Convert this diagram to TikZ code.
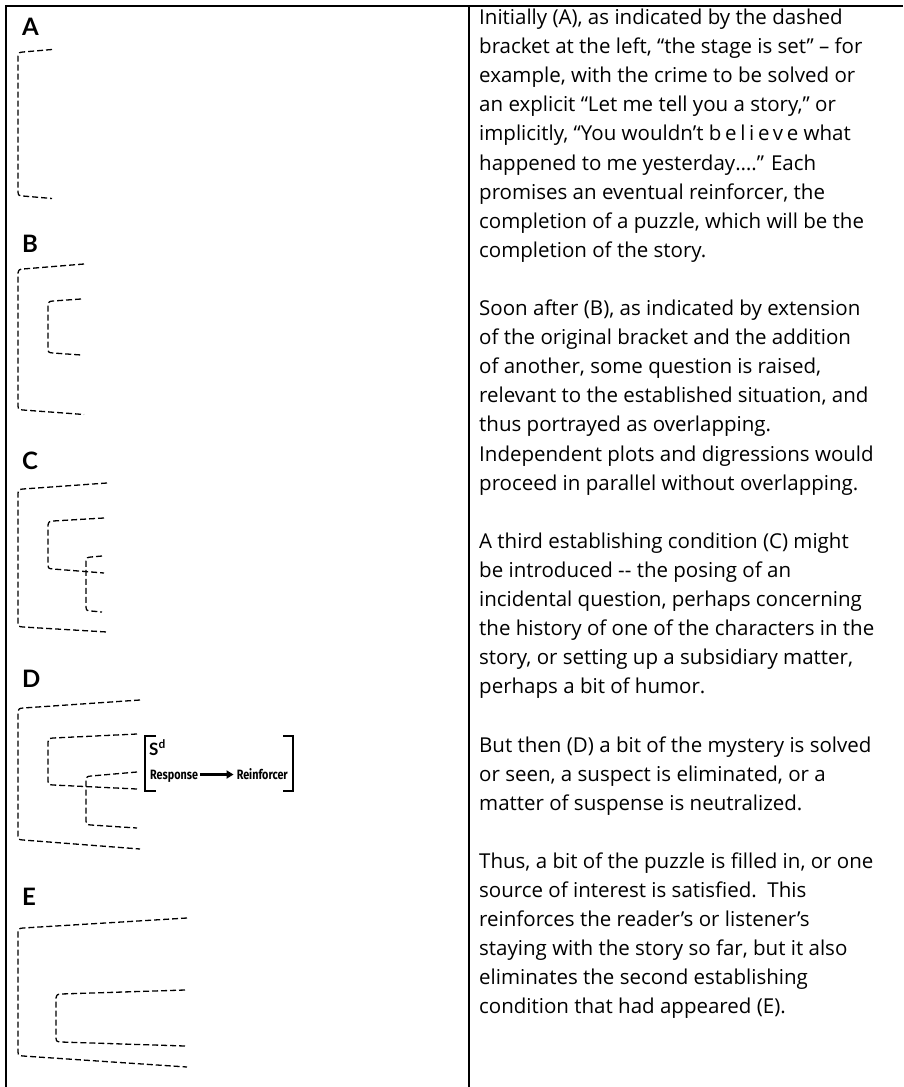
\documentclass[tikz,border=0pt]{standalone}
\usepackage{fontspec}
\setmainfont{Open Sans}
\newfontfamily\labfont{Lato}
\newfontfamily\condfont[FakeStretch=0.8]{Fira Sans}
\usetikzlibrary{arrows.meta}
\newcommand\bkt[6]{\draw[dsh] (#6,#3) -- (#1+5,#2) .. controls (#1+1,#2+0.5) .. (#1,#2+4) -- (#1,#4-4) .. controls (#1+0.5,#4-0.5) .. (#1+5,#4) -- (#6,#5);}
\newcommand\txtline[3]{\node[txt] (#1) at (479,{24.5+29.1*#2}) {#3};}
\tikzset{
  dsh/.style={line width=1.3pt, dash pattern=on 6pt off 3pt},
  txt/.style={anchor=base west, inner sep=0pt, font=\fontsize{20.5}{23}\selectfont},
  lab/.style={anchor=base west, inner sep=0pt, font=\labfont\fontsize{24}{26}\selectfont\bfseries},
  cond/.style={anchor=base west, inner sep=0pt, font=\condfont\fontsize{13.5}{15}\selectfont\bfseries},
  frame/.style={line width=2pt},
}
\begin{document}
\begin{tikzpicture}[x=1pt,y=-1pt]
\useasboundingbox (0,0) rectangle (903,1087);
\draw[frame] (6,1087) -- (6,6) -- (903,6);
\draw[frame] (469,6) -- (469,1087);
% labels
\node[lab] (labA) at (22,35) {A};
\node[lab] (labB) at (22,252) {B};
\node[lab] (labC) at (22,469) {C};
\node[lab] (labD) at (22,687) {D};
\node[lab] (labE) at (22,905) {E};
% brackets
\bkt{18}{52}{49.5}{196}{198.5}{52}
\bkt{18}{269}{264}{410}{414.5}{84}
\bkt{48}{301}{299}{353}{355}{81}
\bkt{18}{489}{483}{627}{632}{107}
\bkt{48}{521}{518}{569}{573}{104}
\bkt{86}{557}{556}{611}{612}{102}
\bkt{18}{708}{700}{840}{849}{140}
\bkt{48}{738}{734}{785}{789}{137}
\bkt{86}{776}{772}{825}{828}{137}
\bkt{18}{928}{918}{1056}{1067}{187}
\bkt{56}{994}{990}{1042}{1046}{185}
% contingency box
\draw[line width=1.3pt] (156,736) -- (145,736) -- (145,791) -- (156,791);
\draw[line width=1.3pt] (283,736) -- (293,736) -- (293,791) -- (283,791);
\node[anchor=base west, inner sep=0pt, font=\labfont\fontsize{17}{18}\selectfont\bfseries] (sd) at (149,755) {S\textsuperscript{d}};
\node[cond] (resp) at (150,779) {Response};
\node[cond, anchor=base east] (reinf) at (288,779) {Reinforcer};
\draw[line width=2.6pt, -{Triangle[length=7pt,width=8pt]}] ([xshift=2pt,yshift=4.5pt]resp.base east) -- ([xshift=-3pt,yshift=4.5pt]reinf.base west);
% text
\txtline{t0}{0}{Initially (A), as indicated by the dashed}
\txtline{t1}{1}{bracket at the left, “the stage is set” – for}
\txtline{t2}{2}{example, with the crime to be solved or}
\txtline{t3}{3}{an explicit “Let me tell you a story,” or}
\txtline{t4}{4}{implicitly, “You wouldn’t {\addfontfeature{LetterSpace=18}believe} what}
\txtline{t5}{5}{happened to me yesterday….” Each}
\txtline{t6}{6}{promises an eventual reinforcer, the}
\txtline{t7}{7}{completion of a puzzle, which will be the}
\txtline{t8}{8}{completion of the story.}
\txtline{t10}{10}{Soon after (B), as indicated by extension}
\txtline{t11}{11}{of the original bracket and the addition}
\txtline{t12}{12}{of another, some question is raised,}
\txtline{t13}{13}{relevant to the established situation, and}
\txtline{t14}{14}{thus portrayed as overlapping.}
\txtline{t15}{15}{Independent plots and digressions would}
\txtline{t16}{16}{proceed in parallel without overlapping.}
\txtline{t18}{18}{A third establishing condition (C) might}
\txtline{t19}{19}{be introduced -{}- the posing of an}
\txtline{t20}{20}{incidental question, perhaps concerning}
\txtline{t21}{21}{the history of one of the characters in the}
\txtline{t22}{22}{story, or setting up a subsidiary matter,}
\txtline{t23}{23}{perhaps a bit of humor.}
\txtline{t25}{25}{But then (D) a bit of the mystery is solved}
\txtline{t26}{26}{or seen, a suspect is eliminated, or a}
\txtline{t27}{27}{matter of suspense is neutralized.}
\txtline{t29}{29}{Thus, a bit of the puzzle is filled in, or one}
\txtline{t30}{30}{source of interest is satisfied.\ \ This}
\txtline{t31}{31}{reinforces the reader’s or listener’s}
\txtline{t32}{32}{staying with the story so far, but it also}
\txtline{t33}{33}{eliminates the second establishing}
\txtline{t34}{34}{condition that had appeared (E).}
\end{tikzpicture}
\end{document}
